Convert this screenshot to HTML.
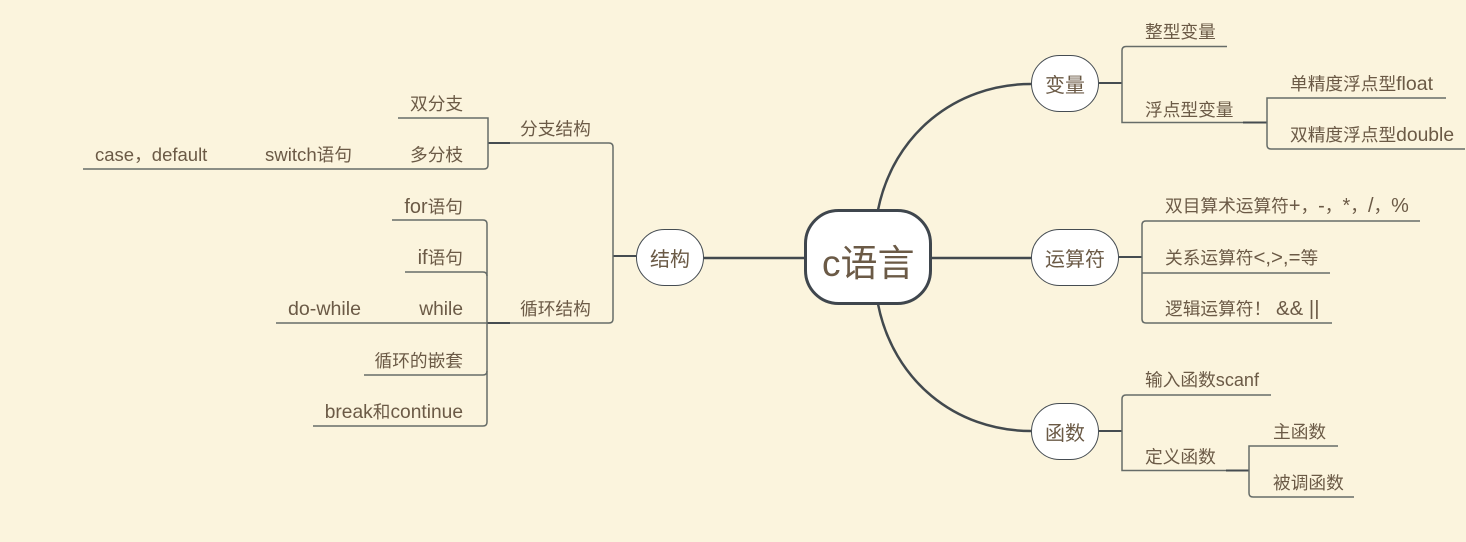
<!DOCTYPE html>
<html lang="zh">
<head>
<meta charset="utf-8">
<title>c语言</title>
<style>
html,body{margin:0;padding:0;background:#fbf4dd;width:1466px;height:542px;overflow:hidden}
svg{display:block}
text{font-family:"Liberation Sans","Noto Sans CJK SC",sans-serif;font-size:17.7px;fill:#6b5a46}
tspan.a{font-size:19.5px}
.big{font-size:20px}
.l{fill:none;stroke:#666c68;stroke-width:1.5}
.t{fill:none;stroke:#454c50;stroke-width:2}
.m{fill:none;stroke:#42494e;stroke-width:2.5}
.n{fill:#fff;stroke:#454c52;stroke-width:1}
</style>
</head>
<body>
<svg width="1466" height="542" viewBox="0 0 1466 542" xmlns="http://www.w3.org/2000/svg">
<rect width="1466" height="542" fill="#fbf4dd"/>

<!-- main connectors -->
<path class="m" d="M878,210 C893,135 955,84 1031,84"/>
<path class="m" d="M878,304 C893,380 955,431 1031,431"/>
<path class="m" d="M931,258 H1031"/>
<path class="m" d="M704,258 H805"/>

<!-- 变量 branch -->
<path class="t" d="M1099,83 H1122"/>
<path class="l" d="M1227,46.5 H1126 Q1122,46.5 1122,50.5 V122.5 H1243"/>
<path class="t" d="M1243,122.5 H1267"/>
<path class="l" d="M1446,98 H1267 V145 Q1267,149 1271,149 H1465"/>

<!-- 运算符 branch -->
<path class="t" d="M1119,257 H1142"/>
<path class="l" d="M1420,221 H1146 Q1142,221 1142,225 V319 Q1142,323 1146,323 H1332"/>
<path class="l" d="M1142,273 H1330"/>

<!-- 函数 branch -->
<path class="t" d="M1099,431 H1122"/>
<path class="l" d="M1271,395 H1126 Q1122,395 1122,399 V470.5 H1226"/>
<path class="t" d="M1226,470.5 H1249"/>
<path class="l" d="M1338,446 H1249 V493 Q1249,497 1253,497 H1354"/>

<!-- 结构 branch -->
<path class="t" d="M613,256 H636"/>
<path class="l" d="M510,143 H609 Q613,143 613,147 V319 Q613,323 609,323 H510"/>
<path class="t" d="M488,143 H510"/>
<path class="t" d="M487,323 H510"/>
<path class="l" d="M398,118 H488 V165 Q488,169 484,169 H83"/>
<path class="l" d="M392,220 H483 Q487,220 487,224 V422 Q487,426 483,426 H313"/>
<path class="l" d="M405,272 H483 Q487,272 487,276"/>
<path class="l" d="M276,323 H487"/>
<path class="l" d="M364,375 H483 Q487,375 487,371"/>

<!-- nodes -->
<rect x="805.5" y="210.5" width="125" height="93" rx="33" ry="33" fill="#fff" stroke="#3f464d" stroke-width="3"/>
<rect class="n" x="1031.5" y="55.5" width="67" height="56" rx="28" ry="28"/>
<rect class="n" x="1031.5" y="229.5" width="87" height="56" rx="28" ry="28"/>
<rect class="n" x="1031.5" y="403.5" width="67" height="56" rx="28" ry="28"/>
<rect class="n" x="636.5" y="229.5" width="67" height="56" rx="28" ry="28"/>

<!-- node labels -->
<text x="822" y="276" style="font-size:37px">c语言</text>
<text class="big" x="1045" y="92">变量</text>
<text class="big" x="1045" y="266">运算符</text>
<text class="big" x="1045" y="440">函数</text>
<text class="big" x="650" y="266">结构</text>

<!-- right labels -->
<text x="1145" y="38">整型变量</text>
<text x="1145" y="116">浮点型变量</text>
<text x="1290" y="90">单精度浮点型<tspan class="a">float</tspan></text>
<text x="1290" y="141">双精度浮点型<tspan class="a" style="font-size:19.3px">double</tspan></text>
<text x="1165" y="212">双目算术运算符<tspan class="a" style="font-size:19.9px">+</tspan>，<tspan class="a" style="font-size:19.9px">-</tspan>，<tspan class="a" style="font-size:19.9px">*</tspan>，<tspan class="a" style="font-size:19.9px">/</tspan>，<tspan class="a" style="font-size:19.9px">%</tspan></text>
<text x="1165" y="264">关系运算符<tspan class="a" style="font-size:20.4px">&lt;,&gt;,=</tspan>等</text>
<text x="1165" y="315">逻辑运算符！ <tspan class="a" style="font-size:20.4px">&amp;&amp; ||</tspan></text>
<text x="1145" y="386">输入函数<tspan class="a" style="font-size:18.1px">scanf</tspan></text>
<text x="1145" y="463">定义函数</text>
<text x="1273" y="438">主函数</text>
<text x="1273" y="489">被调函数</text>

<!-- left labels -->
<text x="520" y="135">分支结构</text>
<text x="520" y="315">循环结构</text>
<text x="410" y="110">双分支</text>
<text x="410" y="161">多分枝</text>
<text x="265" y="161"><tspan class="a" style="font-size:18.6px">switch</tspan>语句</text>
<text x="95" y="161"><tspan class="a" style="font-size:18.5px">case</tspan>，<tspan class="a" style="font-size:18.5px">default</tspan></text>
<text x="463" y="213" text-anchor="end"><tspan class="a" style="font-size:19.9px">for</tspan>语句</text>
<text x="463" y="264" text-anchor="end"><tspan class="a" style="font-size:20px">if</tspan>语句</text>
<text x="463" y="315" text-anchor="end"><tspan class="a" style="font-size:19.2px">while</tspan></text>
<text x="288" y="315"><tspan class="a" style="font-size:19.6px">do-while</tspan></text>
<text x="463" y="367" text-anchor="end">循环的嵌套</text>
<text x="463" y="418" text-anchor="end"><tspan class="a" style="font-size:19.2px">break</tspan>和<tspan class="a" style="font-size:19.2px">continue</tspan></text>
</svg>
</body>
</html>
